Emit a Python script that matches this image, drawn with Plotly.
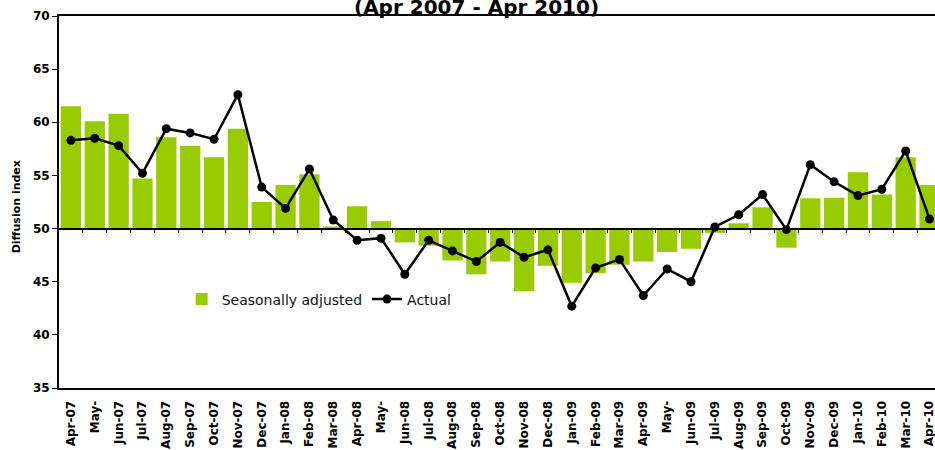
import numpy as np
import plotly.graph_objects as go

# Monthly survey diffusion index, Apr 2007 - Apr 2010
months = ["Apr-07", "May-", "Jun-07", "Jul-07", "Aug-07", "Sep-07", "Oct-07", "Nov-07",
          "Dec-07", "Jan-08", "Feb-08", "Mar-08", "Apr-08", "May-", "Jun-08", "Jul-08",
          "Aug-08", "Sep-08", "Oct-08", "Nov-08", "Dec-08", "Jan-09", "Feb-09", "Mar-09",
          "Apr-09", "May-", "Jun-09", "Jul-09", "Aug-09", "Sep-09", "Oct-09", "Nov-09",
          "Dec-09", "Jan-10", "Feb-10", "Mar-10", "Apr-10"]
seasonally_adjusted = [61.5, 60.1, 60.8, 54.7, 58.6, 57.8, 56.7, 59.4, 52.5, 54.1, 55.1,
                       50.2, 52.1, 50.7, 48.7, 48.4, 47.0, 45.7, 46.9, 44.1, 46.5, 44.9,
                       45.8, 46.6, 46.9, 47.8, 48.1, 49.6, 50.5, 52.0, 48.2, 52.85, 52.9,
                       55.3, 53.2, 56.7, 54.1]
actual = [58.3, 58.5, 57.8, 55.2, 59.4, 59.0, 58.4, 62.6, 53.9, 51.9, 55.6,
          50.8, 48.9, 49.1, 45.7, 48.9, 47.9, 46.9, 48.7, 47.3, 48.0, 42.7,
          46.3, 47.1, 43.7, 46.2, 45.0, 50.15, 51.3, 53.2, 49.9, 56.0, 54.4,
          53.1, 53.7, 57.3, 50.9]
baseline = 50
y_ticks = [35, 40, 45, 50, 55, 60, 65, 70]

FONT = "DejaVu Sans"
GREEN = "#99CC00"
n = len(months)
# month positions along the x axis ("May-" repeats, so labels go through ticktext)
pos = list(range(n))
x_range = [-0.5, n - 0.77]

fig = go.Figure()

# Bars grow up or down from the 50 baseline
fig.add_trace(go.Bar(
    x=pos,
    y=[v - baseline for v in seasonally_adjusted],
    base=baseline,
    name="Seasonally adjusted",
    marker=dict(color=GREEN, line=dict(width=0)),
    customdata=list(zip(months, seasonally_adjusted)),
    hovertemplate="%{customdata[0]}: %{customdata[1]}<extra></extra>",
))

fig.add_trace(go.Scatter(
    x=pos,
    y=actual,
    name="Actual",
    mode="lines+markers",
    line=dict(color="black", width=2.5),
    marker=dict(color="black", size=9),
    customdata=months,
    hovertemplate="%{customdata}: %{y}<extra></extra>",
))

# Axis through the 50 baseline carrying the month boundary ticks
fig.add_trace(go.Scatter(x=[], y=[], xaxis="x2", showlegend=False))

fig.update_layout(
    width=935,
    height=450,
    margin=dict(l=59, r=0, t=16, b=62),
    paper_bgcolor="white",
    plot_bgcolor="white",
    bargap=0.15,
    font=dict(family=FONT, color="black"),
    showlegend=True,
    legend=dict(
        orientation="h",
        x=0.140, y=0.238, xanchor="left", yanchor="middle",
        font=dict(family=FONT, size=14, color="#111111"),
        bgcolor="rgba(0,0,0,0)",
        itemwidth=30,
        tracegroupgap=0,
    ),
    xaxis=dict(
        range=x_range,
        tickvals=pos,
        ticktext=months,
        showline=True, linecolor="black", linewidth=2,
        mirror=True,
        ticks="",
        tickangle=-90,
        ticklabelstandoff=6,
        ticklabeloverflow="allow",
        tickfont=dict(family=FONT, size=12, weight="bold"),
        showgrid=False,
        zeroline=False,
    ),
    xaxis2=dict(
        overlaying="x",
        anchor="free",
        position=(baseline - y_ticks[0]) / (y_ticks[-1] - y_ticks[0]),
        range=x_range,
        tickvals=list(np.arange(n) + 0.5),
        showticklabels=False,
        ticks="outside", ticklen=4, tickwidth=1, tickcolor="black",
        showline=True, linecolor="black", linewidth=1.5,
        showgrid=False, zeroline=False,
    ),
    yaxis=dict(
        range=[y_ticks[0], y_ticks[-1]],
        tickvals=y_ticks,
        showline=True, linecolor="black", linewidth=2,
        ticks="outside", ticklen=5, tickcolor="black",
        tickfont=dict(family=FONT, size=12, weight="bold"),
        showgrid=False,
        zeroline=False,
    ),
    annotations=[
        dict(
            text="Diffusion index",
            xref="paper", yref="paper",
            x=-0.049, y=0.486,
            xanchor="center", yanchor="middle",
            textangle=-90, showarrow=False,
            font=dict(family=FONT, size=11, weight="bold"),
        ),
        dict(
            text="(Apr 2007 - Apr 2010)",
            xref="paper", yref="paper",
            x=(476 - 59) / 876, y=1.0,
            xanchor="center", yanchor="bottom",
            yshift=-5,
            showarrow=False,
            font=dict(family=FONT, size=20, weight="bold"),
        ),
    ],
)

fig.write_html("out.html")
